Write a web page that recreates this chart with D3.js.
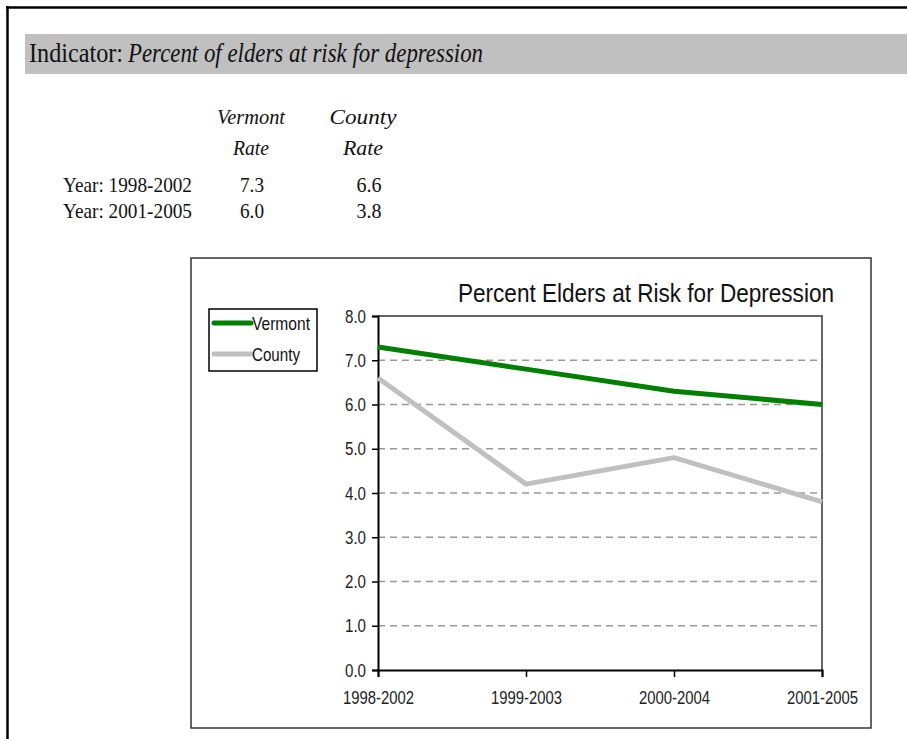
<!DOCTYPE html>
<html>
<head>
<meta charset="utf-8">
<script src="https://cdn.jsdelivr.net/npm/d3@7/dist/d3.min.js"></script>
<style>
  html, body { margin: 0; padding: 0; background: #fff; }
  svg { display: block; }
</style>
</head>
<body>
<svg id="chart" width="907" height="739"></svg>
<script>
// ---- data ----
const categories = ["1998-2002", "1999-2003", "2000-2004", "2001-2005"];
const vermontSeries = [7.3, 6.8, 6.3, 6.0];
const countySeries = [6.6, 4.2, 4.8, 3.8];
const yTickValues = [0, 1, 2, 3, 4, 5, 6, 7, 8];
const seriesNames = ["Vermont", "County"];
const seriesColors = ["#008000", "#c0c0c0"];

const indicatorLabel = "Indicator:";
const indicatorText = "Percent of elders at risk for depression";
const chartTitle = "Percent Elders at Risk for Depression";
const tableHeadTop = ["Vermont", "County"];
const tableHeadBottom = ["Rate", "Rate"];
const tableYears = ["Year: 1998-2002", "Year: 2001-2005"];
const tableVermont = ["7.3", "6.0"];
const tableCounty = ["6.6", "3.8"];

// ---- drawing ----
const svg = d3.select("#chart");
const SERIF = "'Liberation Serif', 'Times New Roman', serif";
const SANS = "'Liberation Sans', Arial, sans-serif";

function fit(sel, w) {
  sel.attr("textLength", w).attr("lengthAdjust", "spacingAndGlyphs");
  return sel;
}

svg.append("rect").attr("width", 907).attr("height", 739).attr("fill", "#fff");

// page border (top + left)
svg.append("line").attr("x1", 6).attr("x2", 907).attr("y1", 7.5).attr("y2", 7.5)
  .attr("stroke", "#000").attr("stroke-width", 2.5);
svg.append("line").attr("x1", 7.5).attr("x2", 7.5).attr("y1", 6).attr("y2", 739)
  .attr("stroke", "#000").attr("stroke-width", 2.5);

// indicator bar
svg.append("rect").attr("x", 25).attr("y", 34).attr("width", 882).attr("height", 40)
  .attr("fill", "#c0c0c0");
fit(svg.append("text").attr("x", 29).attr("y", 62)
  .attr("font-family", SERIF).attr("font-size", 27).attr("fill", "#111")
  .text(indicatorLabel), 94);
fit(svg.append("text").attr("x", 128).attr("y", 62)
  .attr("font-family", SERIF).attr("font-style", "italic").attr("font-size", 27).attr("fill", "#111")
  .text(indicatorText), 355);

// table
const colX = [251, 363];
const headTopW = [68, 67];
const headBotW = [36, 40];
tableHeadTop.forEach((t, i) => {
  fit(svg.append("text").attr("x", colX[i]).attr("y", 124).attr("text-anchor", "middle")
    .attr("font-family", SERIF).attr("font-style", "italic").attr("font-size", 22).attr("fill", "#111")
    .text(t), headTopW[i]);
});
tableHeadBottom.forEach((t, i) => {
  fit(svg.append("text").attr("x", colX[i]).attr("y", 155).attr("text-anchor", "middle")
    .attr("font-family", SERIF).attr("font-style", "italic").attr("font-size", 22).attr("fill", "#111")
    .text(t), headBotW[i]);
});
const rowY = [192, 218];
tableYears.forEach((t, i) => {
  fit(svg.append("text").attr("x", 63).attr("y", rowY[i])
    .attr("font-family", SERIF).attr("font-size", 22).attr("fill", "#111").text(t), 129);
  fit(svg.append("text").attr("x", 252).attr("y", rowY[i]).attr("text-anchor", "middle")
    .attr("font-family", SERIF).attr("font-size", 22).attr("fill", "#111").text(tableVermont[i]), 24);
  fit(svg.append("text").attr("x", 369).attr("y", rowY[i]).attr("text-anchor", "middle")
    .attr("font-family", SERIF).attr("font-size", 22).attr("fill", "#111").text(tableCounty[i]), 25);
});

// chart box
svg.append("rect").attr("x", 191).attr("y", 258).attr("width", 680).attr("height", 470)
  .attr("fill", "#fff").attr("stroke", "#333").attr("stroke-width", 1.5);

// title
fit(svg.append("text").attr("x", 646).attr("y", 302).attr("text-anchor", "middle")
  .attr("font-family", SANS).attr("font-size", 26).attr("fill", "#111").text(chartTitle), 376);

// scales
const x = d3.scalePoint().domain(categories).range([378, 822]);
const y = d3.scaleLinear().domain([0, 8]).range([670, 316]);

// plot area border top/right
svg.append("path")
  .attr("d", `M${x.range()[0]},${y(8)}H${x.range()[1]}V${y(0)}`)
  .attr("fill", "none").attr("stroke", "#333").attr("stroke-width", 1.5);

// gridlines
svg.append("g").selectAll("line").data(yTickValues.filter(v => v > 0 && v < 8)).join("line")
  .attr("x1", x.range()[0]).attr("x2", x.range()[1])
  .attr("y1", d => y(d)).attr("y2", d => y(d))
  .attr("stroke", "#999").attr("stroke-width", 1.5).attr("stroke-dasharray", "7,5");

// axes
const yAxis = svg.append("g").attr("transform", `translate(${x.range()[0]},0)`)
  .call(d3.axisLeft(y).tickValues(yTickValues).tickFormat(d3.format(".1f")).tickSize(6).tickPadding(6));
yAxis.select(".domain").attr("stroke", "#000").attr("stroke-width", 2);
yAxis.selectAll(".tick line").attr("stroke", "#000").attr("stroke-width", 1.5);
yAxis.selectAll(".tick text").attr("font-family", SANS).attr("font-size", 19).attr("fill", "#222")
  .attr("textLength", 21).attr("lengthAdjust", "spacingAndGlyphs");

const xAxis = svg.append("g").attr("transform", `translate(0,${y(0)})`)
  .call(d3.axisBottom(x).tickSize(7).tickPadding(14));
xAxis.select(".domain").attr("stroke", "#000").attr("stroke-width", 2);
xAxis.selectAll(".tick line").attr("stroke", "#000").attr("stroke-width", 1.5);
xAxis.selectAll(".tick text").attr("font-family", SANS).attr("font-size", 19).attr("fill", "#222")
  .attr("textLength", 71).attr("lengthAdjust", "spacingAndGlyphs");

// lines
const line = d3.line().x((d, i) => x(categories[i])).y(d => y(d));
[countySeries, vermontSeries].forEach((s, k) => {
  const i = k === 0 ? 1 : 0;
  svg.append("path").datum(s).attr("d", line)
    .attr("fill", "none").attr("stroke", seriesColors[i]).attr("stroke-width", 5)
    .attr("stroke-linejoin", "round");
});

// legend
svg.append("rect").attr("x", 209).attr("y", 309).attr("width", 108).attr("height", 62)
  .attr("fill", "#fff").attr("stroke", "#000").attr("stroke-width", 1.5);
const legY = [323, 354];
const legW = [58, 48];
seriesNames.forEach((n, i) => {
  svg.append("line").attr("x1", 214).attr("x2", 251).attr("y1", legY[i]).attr("y2", legY[i])
    .attr("stroke", seriesColors[i]).attr("stroke-width", 5).attr("stroke-linecap", "round");
  fit(svg.append("text").attr("x", 252).attr("y", legY[i] + 7)
    .attr("font-family", SANS).attr("font-size", 19).attr("fill", "#111").text(n), legW[i]);
});
</script>
</body>
</html>
